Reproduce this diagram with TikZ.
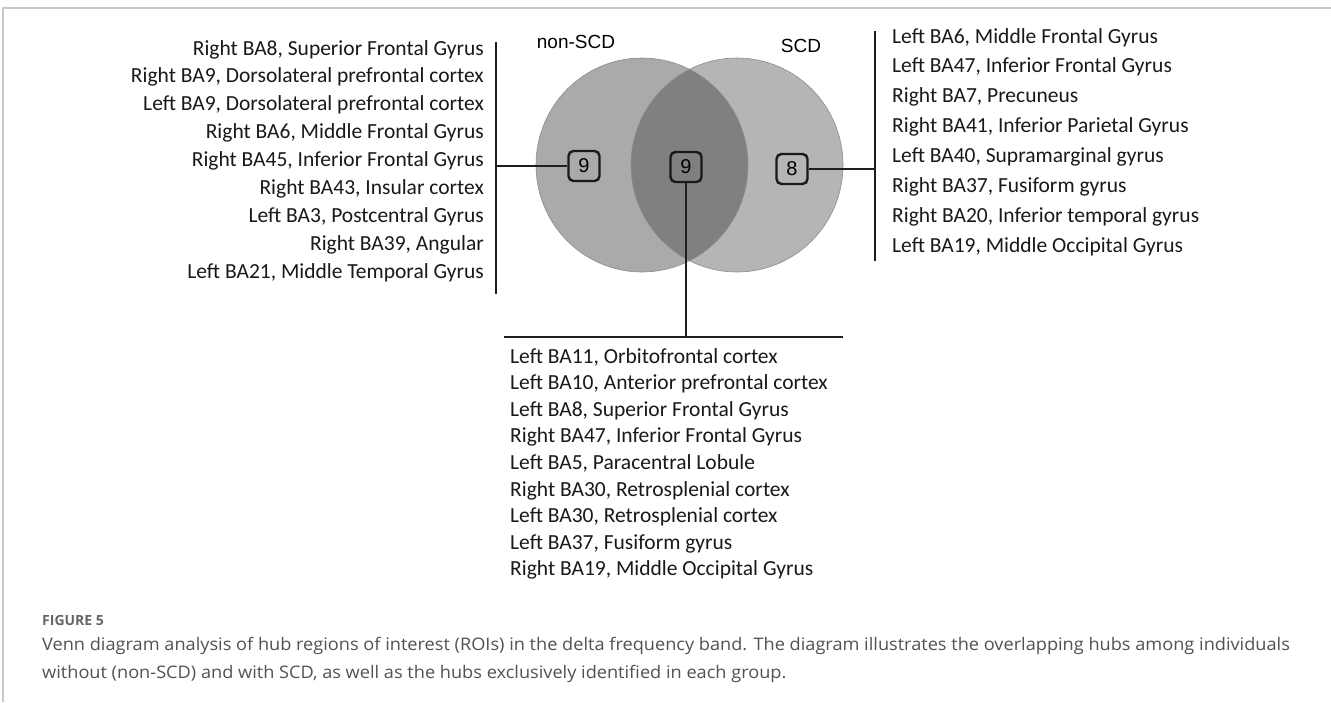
\documentclass[tikz,border=0pt]{standalone}
\usepackage{fontspec}
\setmainfont{Carlito}
\newfontfamily\arialf{Liberation Sans}
\newfontfamily\capf{Open Sans}
\begin{document}
\begin{tikzpicture}[x=1pt,y=-1pt,
  lst/.style={inner sep=0pt,font=\fontsize{21.5}{26}\selectfont,text=black!90},
  numbox/.style={draw=black!90,line width=2.4pt,rounded corners=5pt,minimum width=31pt,minimum height=30pt,inner sep=0pt,font=\arialf\fontsize{20}{23}\selectfont},
  conn/.style={line width=2.4pt,draw=black!88},
  venn/.style={font=\arialf\fontsize{19}{23}\selectfont},
  captxt/.style={anchor=base west,inner sep=0pt,text=black!68,font=\capf\fontsize{17.3}{20}\selectfont,xscale=1.05}]
\useasboundingbox (0,0) rectangle (1331,702);
\fill[white] (0,0) rectangle (1331,702);
% frame
\draw[line width=2pt,draw=black!22] (3,702) -- (3,8) -- (1331,8);
% Venn
\definecolor{cL}{HTML}{A8AAAB}
\definecolor{cR}{HTML}{B4B5B6}
\definecolor{cM}{HTML}{7F8081}
\fill[cL] (642,165) ellipse [x radius=106,y radius=107];
\fill[cR] (737,165) ellipse [x radius=106,y radius=107];
\begin{scope}
\clip (642,165) ellipse [x radius=106,y radius=107];
\fill[cM] (737,165) ellipse [x radius=106,y radius=107];
\end{scope}
\draw[black!45,line width=0.6pt] (642,165) ellipse [x radius=106,y radius=107];
\draw[black!45,line width=0.6pt] (737,165) ellipse [x radius=106,y radius=107];
\node[venn] (nscd) at (576,42) {non-SCD};
\node[venn] (scd) at (801,46) {SCD};
% boxes
\node[numbox] (bA) at (584,166) {9};
\node[numbox] (bB) at (686,167) {9};
\node[numbox] (bC) at (792,169) {8};
% left list
\coordinate (LT) at (496,42);
\coordinate (LB) at (496,294);
\draw[conn] (LT) -- (LB);
\draw[conn] (bA.west) -- (bA.west -| LT);
\foreach \t [count=\i] in {{Right BA8, Superior Frontal Gyrus},{Right BA9, Dorsolateral prefrontal cortex},{Left BA9, Dorsolateral prefrontal cortex},{Right BA6, Middle Frontal Gyrus},{Right BA45, Inferior Frontal Gyrus},{Right BA43, Insular cortex},{Left BA3, Postcentral Gyrus},{Right BA39, Angular},{Left BA21, Middle Temporal Gyrus}}
  \node[lst,anchor=base east] (L\i) at (484,{55+27.9*(\i-1)}) {\t};
% right list
\coordinate (RT) at (875,31);
\coordinate (RB) at (875,261);
\draw[conn] (RT) -- (RB);
\draw[conn] (bC.east) -- (bC.east -| RT);
\foreach \t [count=\i] in {{Left BA6, Middle Frontal Gyrus},{Left BA47, Inferior Frontal Gyrus},{Right BA7, Precuneus},{Right BA41, Inferior Parietal Gyrus},{Left BA40, Supramarginal gyrus},{Right BA37, Fusiform gyrus},{Right BA20, Inferior temporal gyrus},{Left BA19, Middle Occipital Gyrus}}
  \node[lst,anchor=base west] (R\i) at (892,{43+29.9*(\i-1)}) {\t};
% bottom list
\coordinate (BL) at (504,337);
\coordinate (BR) at (843,337);
\draw[conn] (BL) -- (BR);
\draw[conn] (bB.south) -- (bB.south |- BL);
\foreach \t [count=\i] in {{Left BA11, Orbitofrontal cortex},{Left BA10, Anterior prefrontal cortex},{Left BA8, Superior Frontal Gyrus},{Right BA47, Inferior Frontal Gyrus},{Left BA5, Paracentral Lobule},{Right BA30, Retrosplenial cortex},{Left BA30, Retrosplenial cortex},{Left BA37, Fusiform gyrus},{Right BA19, Middle Occipital Gyrus}}
  \node[lst,anchor=base west] (B\i) at (510,{363+26.6*(\i-1)}) {\t};
% caption
\node[anchor=base west,inner sep=0pt,text=black!60,font=\capf\bfseries\fontsize{14}{16}\selectfont] (fig) at (42,625) {FIGURE 5};
\node[captxt] (cap1) at (42,650) {Venn diagram analysis of hub regions of interest (ROIs) in the delta frequency band. The diagram illustrates the overlapping hubs among individuals};
\node[captxt] (cap2) at (42,678) {without (non-SCD) and with SCD, as well as the hubs exclusively identified in each group.};
\end{tikzpicture}
\end{document}
